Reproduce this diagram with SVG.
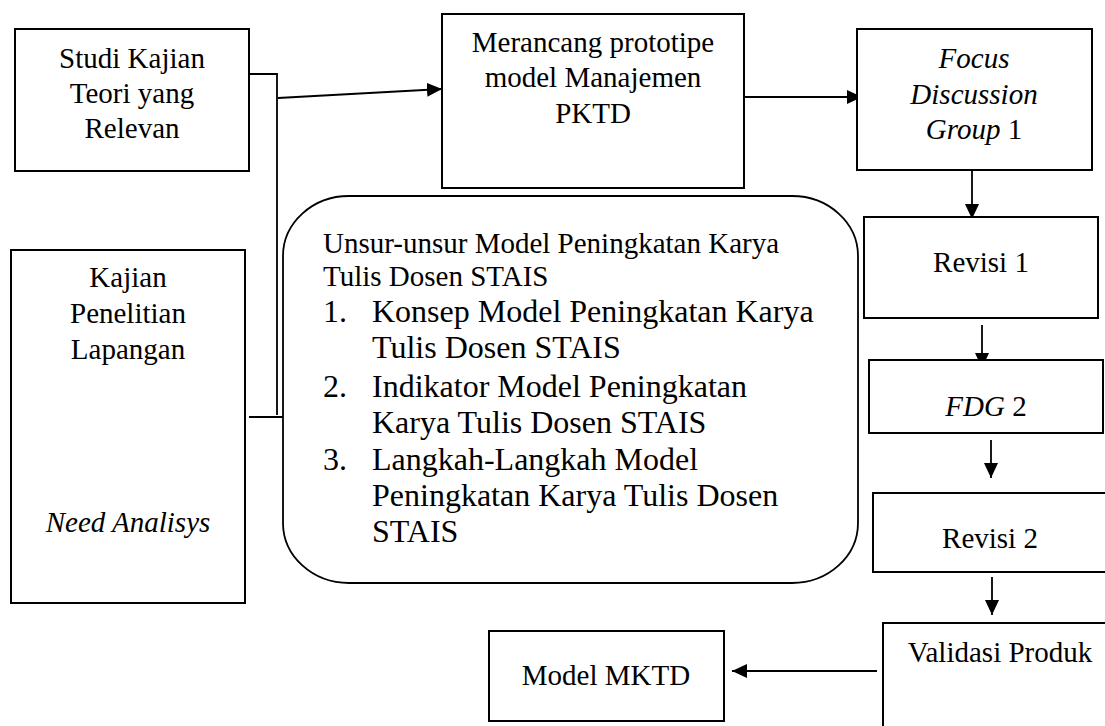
<svg xmlns="http://www.w3.org/2000/svg" width="1105" height="726" viewBox="0 0 1105 726">
<style>
.box{fill:#fff;stroke:#000;stroke-width:2}
.t{font-family:"Liberation Serif","Times New Roman",serif;font-size:29px;fill:#000;text-anchor:middle}
.l{font-family:"Liberation Serif","Times New Roman",serif;fill:#000}
.i{font-style:italic}
.c{fill:none;stroke:#000;stroke-width:1.8}
</style>
<defs>
<marker id="ah" markerUnits="userSpaceOnUse" markerWidth="16" markerHeight="14" refX="15" refY="7" orient="auto">
<path d="M0,0 L15,7 L0,14 z" fill="#000"/>
</marker>
</defs>
<rect width="1105" height="726" fill="#fff"/>
<g id="connectors">
<polyline class="c" points="249,74 277,74 277,415"/>
<line class="c" x1="249" y1="417" x2="283" y2="417"/>
<line class="c" x1="278" y1="98" x2="442" y2="89" marker-end="url(#ah)"/>
<line class="c" x1="737" y1="97" x2="862" y2="97" marker-end="url(#ah)"/>
<line class="c" x1="972" y1="170" x2="972" y2="219" marker-end="url(#ah)"/>
<line class="c" x1="982" y1="325" x2="982" y2="368" marker-end="url(#ah)"/>
<line class="c" x1="991" y1="440" x2="991" y2="478" marker-end="url(#ah)"/>
<line class="c" x1="992" y1="577" x2="992" y2="615" marker-end="url(#ah)"/>
<line class="c" x1="877" y1="671" x2="732" y2="671" marker-end="url(#ah)"/>
</g>
<g id="studi">
<rect class="box" x="15" y="29" width="234" height="142"/>
<text class="t" x="132" y="68">Studi Kajian</text>
<text class="t" x="132" y="103">Teori yang</text>
<text class="t" x="132" y="138">Relevan</text>
</g>
<g id="kajian">
<rect class="box" x="11" y="250" width="234" height="353"/>
<text class="t" x="128" y="287">Kajian</text>
<text class="t" x="128" y="323">Penelitian</text>
<text class="t" x="128" y="359">Lapangan</text>
<text class="t i" x="128" y="532">Need Analisys</text>
</g>
<g id="merancang">
<rect class="box" x="442" y="14" width="302" height="174"/>
<text class="t" x="593" y="52">Merancang prototipe</text>
<text class="t" x="593" y="87">model Manajemen</text>
<text class="t" x="593" y="123">PKTD</text>
</g>
<g id="fdg1">
<rect class="box" x="857" y="29" width="235" height="141"/>
<text class="t i" x="974" y="68">Focus</text>
<text class="t i" x="974" y="104">Discussion</text>
<text class="t" x="974" y="139"><tspan class="i">Group</tspan> 1</text>
</g>
<g id="unsur">
<rect x="283" y="196" width="575" height="387" rx="66" ry="60" fill="#fff" stroke="#000" stroke-width="1.8"/>
<text class="l" x="323" y="253" font-size="29">Unsur-unsur Model Peningkatan Karya</text>
<text class="l" x="323" y="286" font-size="29">Tulis Dosen STAIS</text>
<text class="l" x="323" y="322" font-size="32">1.</text>
<text class="l" x="372" y="322" font-size="32">Konsep Model Peningkatan Karya</text>
<text class="l" x="372" y="358" font-size="32">Tulis Dosen STAIS</text>
<text class="l" x="323" y="397" font-size="32">2.</text>
<text class="l" x="372" y="397" font-size="32">Indikator Model Peningkatan</text>
<text class="l" x="372" y="433" font-size="32">Karya Tulis Dosen STAIS</text>
<text class="l" x="323" y="470" font-size="32">3.</text>
<text class="l" x="372" y="470" font-size="32">Langkah-Langkah Model</text>
<text class="l" x="372" y="506" font-size="32">Peningkatan Karya Tulis Dosen</text>
<text class="l" x="372" y="542" font-size="32">STAIS</text>
</g>
<g id="revisi1">
<rect class="box" x="864" y="217" width="234" height="101"/>
<text class="t" x="981" y="272">Revisi 1</text>
</g>
<g id="fdg2">
<rect class="box" x="869" y="360" width="234" height="73"/>
<text class="t" x="986" y="416"><tspan class="i">FDG</tspan> 2</text>
</g>
<g id="revisi2">
<rect class="box" x="873" y="493" width="240" height="79"/>
<text class="t" x="990" y="548">Revisi 2</text>
</g>
<g id="validasi">
<rect class="box" x="883" y="623" width="240" height="120"/>
<text class="t" x="1000" y="662">Validasi Produk</text>
</g>
<g id="mktd">
<rect class="box" x="489" y="631" width="235" height="90"/>
<text class="t" x="606" y="685">Model MKTD</text>
</g>
</svg>
